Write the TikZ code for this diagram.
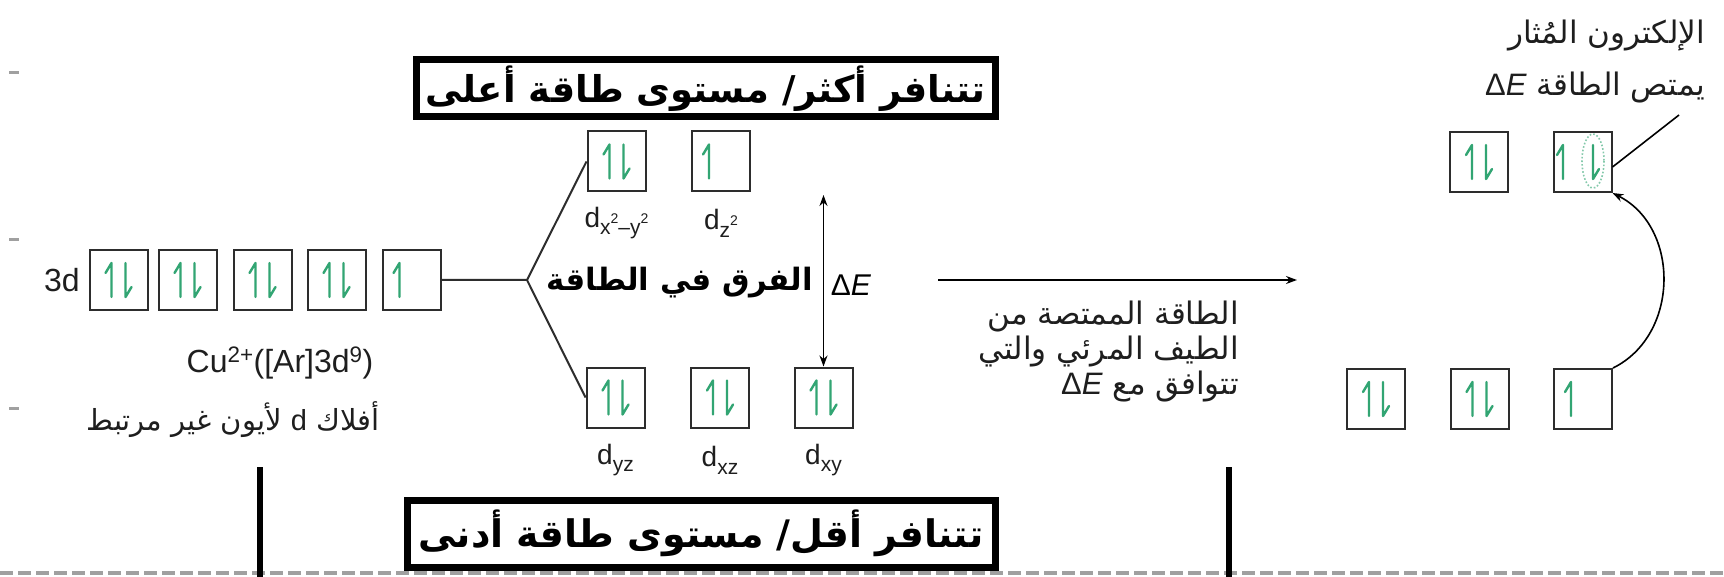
\documentclass[tikz,border=0pt]{standalone}
\usepackage{fontspec}
\setmainfont{Liberation Sans}
\newfontfamily\arabicfont[Script=Arabic]{DejaVu Sans}
\TeXXeTstate=1
\usetikzlibrary{arrows.meta}
\definecolor{spingreen}{RGB}{50,165,115}
\definecolor{boxgray}{RGB}{45,45,45}
\definecolor{dashgray}{RGB}{160,160,160}
\definecolor{txtgray}{RGB}{30,30,30}
\newcommand\dlab[1]{d\raisebox{-0.28em}{\fontsize{21}{21}\selectfont #1}}
\newcommand\sqtwo{\raisebox{0.55em}{\fontsize{14}{14}\selectfont 2}}
\tikzset{
  orb/.style={draw=boxgray, line width=2pt, minimum width=58pt, minimum height=60pt, inner sep=0pt},
  spin/.style={draw=spingreen, line width=2.4pt, line cap=round, line join=round},
  pairspin/.pic={\draw[spin] (-7,17) -- (-7,-17) -- (-13,-7); \draw[spin] (7,-17) -- (7,17) -- (13,7);},
  onespin/.pic={\draw[spin] (-12,17) -- (-12,-17) -- (-18,-7);},
  conn/.style={draw=boxgray, line width=2pt},
  arr/.style={draw=black, line width=1.6pt, -{Stealth[length=11pt,width=8pt]}},
  headbox/.style={draw=black, line width=7pt, fill=white, inner sep=0pt},
  latin/.style={font=\fontsize{32}{36}\selectfont, text=txtgray, inner sep=0pt},
  dl/.style={font=\fontsize{28}{28}\selectfont, text=txtgray, inner sep=0pt},
  artxt/.style={font=\arabicfont\fontsize{31}{34}\selectfont, text=txtgray, inner sep=0pt},
}
\begin{document}
\begin{tikzpicture}[x=1pt, y=-1pt]
\fill[white] (0,0) rectangle (1724,577);
\useasboundingbox (0,0) rectangle (1724,577);
% left edge marks
\draw[dashgray, line width=3pt] (9,73) -- (19,73);
\draw[dashgray, line width=3pt] (9,240) -- (19,240);
\draw[dashgray, line width=3pt] (9,408) -- (19,408);
% bottom dashed line
\draw[dashgray, line width=4pt, dash pattern=on 13pt off 5pt] (0,573) -- (1724,573);
% vertical bars
\draw[line width=6pt] (260,467) -- (260,577);
\draw[line width=6pt] (1229,467) -- (1229,577);

% free atom 3d
\node[latin, anchor=east] (l3d) at (80,280) {3d};
\node[orb] (d1) at (118.5,280) {};
\node[orb] (d2) at (187.5,280) {};
\node[orb] (d3) at (262.5,280) {};
\node[orb] (d4) at (336.5,280) {};
\node[orb] (d5) at (411.5,280) {};
\pic at (d1.center) {pairspin};
\pic at (d2.center) {pairspin};
\pic at (d3.center) {pairspin};
\pic at (d4.center) {pairspin};
\pic at (d5.center) {onespin};
\node[latin] (cu) at (280,363) {Cu\textsuperscript{2+}([Ar]3d\textsuperscript{9})};
\node[artxt, font=\arabicfont\fontsize{29}{32}\selectfont] (free) at (233,420) {\beginR أفلاك {\normalfont d} لأيون غير مرتبط\endR};

% split orbitals
\node[orb] (dx2) at (616.5,161.5) {};
\node[orb] (dz2) at (721,161.5) {};
\node[orb] (dyz) at (615.5,397.5) {};
\node[orb] (dxz) at (720,397.5) {};
\node[orb] (dxy) at (823.5,397.5) {};
\pic at (dx2.center) {pairspin};
\pic at (dz2.center) {onespin};
\pic at (dyz.center) {pairspin};
\pic at (dxz.center) {pairspin};
\pic at (dxy.center) {pairspin};
\node[dl] (ldx2) at (616.5,223) {\dlab{x\sqtwo–y\sqtwo}};
\node[dl] (ldz2) at (721,223) {\dlab{z\sqtwo}};
\node[dl] (ldyz) at (615.5,460) {\dlab{yz}};
\node[dl] (ldxz) at (720,460) {\dlab{xz}};
\node[dl] (ldxy) at (823.5,460) {\dlab{xy}};

\coordinate (br) at (527,280);
\draw[conn] (d5.east) -- (br) -- (dx2.west);
\draw[conn] (br) -- (dyz.west);

\coordinate (dEtop) at (823.5,195);
\draw[line width=1.6pt, {Stealth[length=11pt,width=8pt]}-{Stealth[length=11pt,width=8pt]}] (dEtop) -- (dxy.north);
\node[inner sep=0pt, font=\fontsize{30}{30}\selectfont] (dElab) at (851,285) {Δ\textit{E}};
\node[inner sep=0pt] (gap) at (680,283) {\resizebox{266pt}{!}{\arabicfont\bfseries\beginR الفرق في الطاقة\endR}};

% heading boxes
\node[headbox, minimum width=579pt, minimum height=57pt] (top) at (705.5,88.5) {\resizebox{560pt}{!}{\arabicfont\bfseries\beginR تتنافر أكثر/ مستوى طاقة أعلى\endR}};
\node[headbox, minimum width=588pt, minimum height=67pt] (bot) at (701,533.5) {\resizebox{565pt}{!}{\arabicfont\bfseries\beginR تتنافر أقل/ مستوى طاقة أدنى\endR}};

% absorption arrow and text
\coordinate (hs) at (938,280);
\coordinate (he) at (1297,280);
\draw[arr] (hs) -- (he);
\node[artxt, anchor=east] (ab1) at (1239,317) {\beginR الطاقة الممتصة من\endR};
\node[artxt, anchor=east] (ab2) at (1239,352) {\beginR الطيف المرئي والتي\endR};
\node[artxt, anchor=east] (ab3) at (1239,387) {\beginR تتوافق مع \beginL{\normalfont Δ\textit{E}}\endL\endR};

% excited state
\node[orb] (A) at (1479,162) {};
\node[orb] (B) at (1582.5,162) {};
\node[orb] (C) at (1376,399) {};
\node[orb] (D) at (1479.5,399) {};
\node[orb] (E) at (1583,399) {};
\pic at (A.center) {pairspin};
\pic at (C.center) {pairspin};
\pic at (D.center) {pairspin};
\pic at (E.center) {onespin};
\draw[spin] (1563,179) -- (1563,145) -- (1557,155);
\draw[spin] (1593,145) -- (1593,179) -- (1599,169);
\draw[spingreen!60, dotted, line width=1.6pt] (1593,161) ellipse [x radius=11, y radius=27];
\node[artxt, anchor=east] (ex1) at (1705,36) {\beginR الإلكترون المُثار\endR};
\node[artxt, anchor=east] (ex2) at (1705,88) {\beginR يمتص الطاقة \beginL{\normalfont Δ\textit{E}}\endL\endR};
\coordinate (ptr) at (1679,115);
\draw[line width=1.6pt] (ptr) -- ([yshift=-5pt]B.east);
\draw[arr] (E.north east) .. controls (1680,335) and (1680,227) .. (B.south east);
\end{tikzpicture}
\end{document}
